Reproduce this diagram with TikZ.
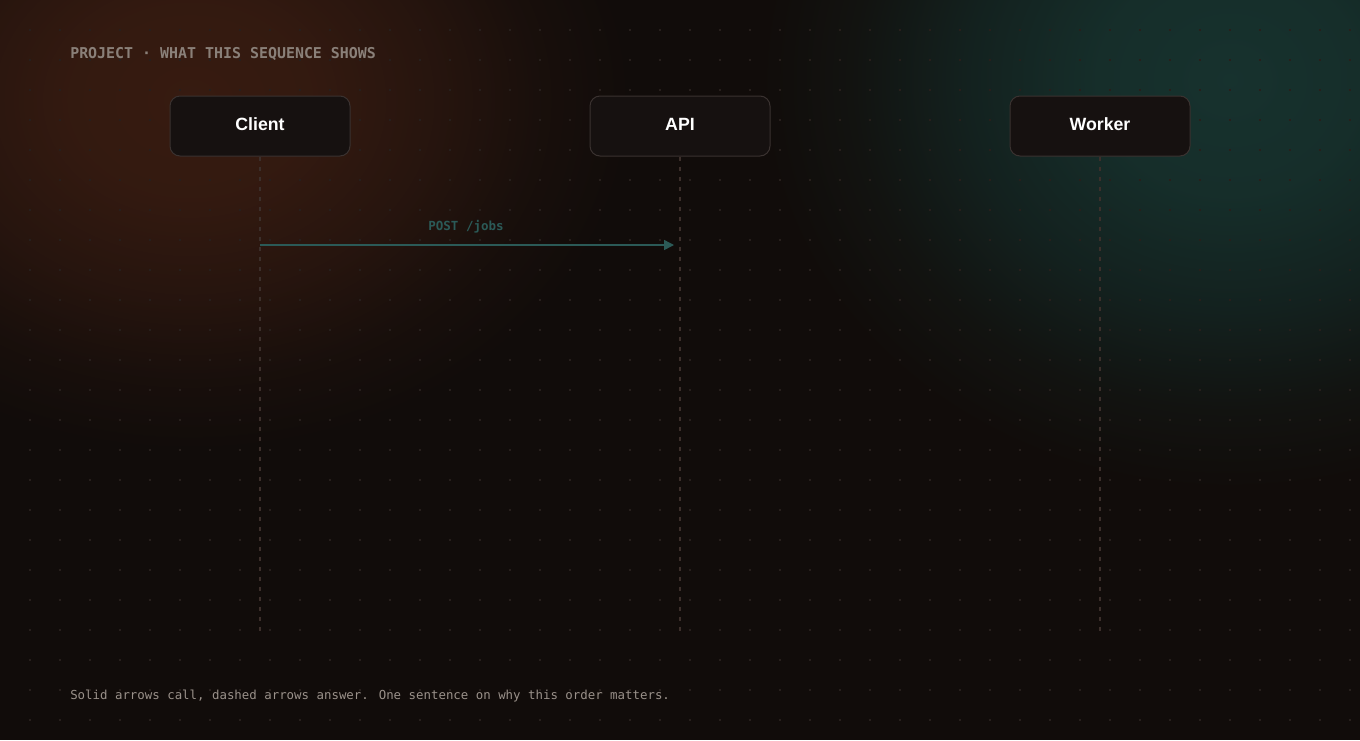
\documentclass[tikz,border=0pt]{standalone}
\usepackage{fontspec}
\setmainfont{Liberation Sans}
\newfontfamily\monofont{DejaVu Sans Mono}
\usetikzlibrary{arrows.meta}
\definecolor{bgc}{HTML}{110C0A}
\definecolor{dotc}{HTML}{271F1C}
\definecolor{boxfill}{HTML}{161110}
\definecolor{boxline}{HTML}{3A3230}
\definecolor{lifec}{HTML}{3C2F2B}
\definecolor{tealc}{HTML}{2B5A57}
\definecolor{titlec}{HTML}{8A8079}
\definecolor{notec}{HTML}{9A918A}
\pgfdeclareradialshading{brownglow}{\pgfpoint{0bp}{0bp}}{rgb(0bp)=(0.215,0.105,0.065); rgb(7bp)=(0.20,0.10,0.063); rgb(14bp)=(0.15,0.08,0.054); rgb(20bp)=(0.095,0.058,0.045); rgb(25bp)=(0.067,0.047,0.039); rgb(50bp)=(0.067,0.047,0.039)}
\pgfdeclareradialshading{tealglow}{\pgfpoint{0bp}{0bp}}{rgb(0bp)=(0.09,0.195,0.18); rgb(7bp)=(0.085,0.18,0.165); rgb(14bp)=(0.075,0.13,0.12); rgb(20bp)=(0.07,0.075,0.065); rgb(25bp)=(0.067,0.047,0.039); rgb(50bp)=(0.067,0.047,0.039)}
\tikzset{
  actor/.style={draw=boxline, line width=0.75pt, fill=boxfill, rounded corners=7.5pt,
    minimum width=135pt, minimum height=45pt, inner sep=0pt, text=white, text depth=3pt,
    font=\fontsize{13.3}{15}\selectfont\bfseries},
  lifeline/.style={draw=lifec, line width=0.8pt, dash pattern=on 3pt off 4.5pt},
  callarrow/.style={draw=tealc, line width=1.1pt, -{Triangle[length=7.5pt,width=7.5pt]}},
  msglabel/.style={text=tealc, font=\monofont\fontsize{9.4}{11}\selectfont\bfseries, inner sep=0pt, anchor=base},
}
\begin{document}
\begin{tikzpicture}[x=0.75pt,y=-0.75pt]
\useasboundingbox (0,0) rectangle (1360,740);
\fill[bgc] (0,0) rectangle (1360,740);
\begin{scope}
\clip (0,0) rectangle (1360,740);
\shade[shading=tealglow] (1230,80) ellipse [x radius=470, y radius=410];
\shade[shading=brownglow] (190,100) ellipse [x radius=440, y radius=350];
\end{scope}
% dot grid
\foreach \i in {1,...,45} {
  \foreach \j in {1,...,24} {
    \fill[dotc] ({30*\i-0.8},{30*\j-0.8}) rectangle ++(1.6,1.6);
  }
}
% title
\node[anchor=base west, inner sep=0pt, text=titlec, font=\monofont\fontsize{11.2}{13}\selectfont\bfseries] (title) at (70,58) {PROJECT · WHAT THIS SEQUENCE SHOWS};
% actors
\node[actor] (client) at (260,126) {Client};
\node[actor] (api) at (680,126) {API};
\node[actor] (worker) at (1100,126) {Worker};
% lifeline ends
\coordinate (clientend) at (260,633);
\coordinate (apiend) at (680,633);
\coordinate (workerend) at (1100,633);
\draw[lifeline] (client.south) -- (clientend);
\draw[lifeline] (api.south) -- (apiend);
\draw[lifeline] (worker.south) -- (workerend);
% message
\coordinate (m1s) at (260,245);
\coordinate (m1e) at (674,245);
\draw[callarrow] (m1s) -- (m1e);
\node[msglabel] (m1label) at (466,230) {POST /jobs};
% note
\node[anchor=base west, inner sep=0pt, text=notec, font=\monofont\fontsize{9.3}{11}\selectfont] (note) at (70,699) {Solid arrows call, dashed arrows answer. One sentence on why this order matters.};
\end{tikzpicture}
\end{document}
